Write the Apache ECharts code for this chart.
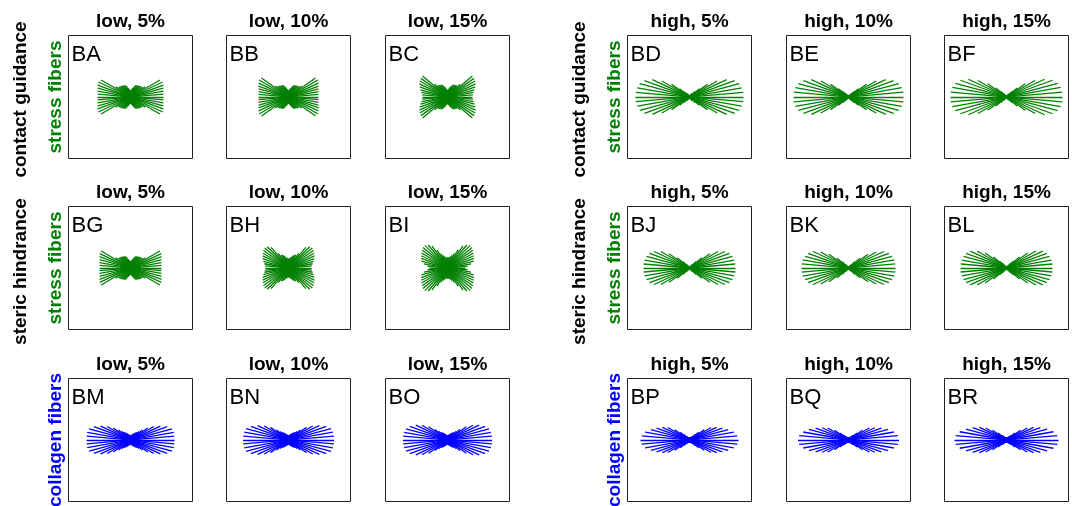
<!DOCTYPE html>
<html><head><meta charset="utf-8">
<script src="https://cdn.jsdelivr.net/npm/echarts@6/dist/echarts.min.js"></script>
<style>html,body{margin:0;padding:0;background:#fff}#c{width:1072px;height:506px}</style>
</head><body><div id="c"></div>
<script>
// fiber directions (degrees); each length applies to +angle and -angle
const angles = [0,5,10,15,20,25,30,35,40,45,50,55,60,65,70,75,80,85,90];
const colTitles = ['low, 5%','low, 10%','low, 15%','high, 5%','high, 10%','high, 15%'];
const panelIds = [
  ['BA','BB','BC','BD','BE','BF'],
  ['BG','BH','BI','BJ','BK','BL'],
  ['BM','BN','BO','BP','BQ','BR']
];
const rowMechanism = ['contact guidance','steric hindrance',''];
const rowFiber = ['stress fibers','stress fibers','collagen fibers'];
const rowColor = ['#008000','#008000','#0000ff'];

// half-lengths of the orientation lines per panel
const BA = [33,33,33.5,34,35,35.5,34,18,15.5,15,14.5,14,13.5,13,11.5,9.5,8,7,6.5];
const BB = [30,30,30.5,31,32,33,34,33,17,15,14.5,14,13.5,13,11.5,9.5,8,7,6.5];
const BC = [25,25.5,26.5,28,29.5,31,32,32.5,32.5,18,15,14.5,14,13.5,12,10.5,8.5,7.5,7];
const BD = [54,54,53,51.5,48,41,32,22,13,8,5,4,3,2,2,2,2,2,2];
const BE = [55,55,54,52,48,41,32,22,13,8,5,3,2,2,2,2,2,2,2];
const BF = [56,56,55,53,49,42,33,23,14,8,5,3,2,2,2,2,2,2,2];
const BG = [31,31,31.5,32,33,34,34,18,15.5,15,14.5,14,13.5,13,11.5,9.5,8,7,6.5];
const BH = [23,23.5,24.5,26,27.5,28.5,29.5,30.5,31,30,27,18,15,14.5,13,11.5,10.5,9.5,9.5];
const BI = [18,20,24,27,28,29,30,31,32,32,30,27,21,16,13.5,12,11,10.5,10.5];
const BJ = [46,46,45.5,44.5,42.5,39,33,25,16,9,5,3,2,2,2,2,2,2,2];
const BK = [47,47,46.5,45,43,39,32,24,15,9,5,3,2,2,2,2,2,2,2];
const BL = [46,46,45.5,44.5,43,40,34,26,17,10,6,3,2,2,2,2,2,2,2];
const BM = [44,44,44,43,39,33,27,21,15.5,12,10,9,8,7,6,5.5,5,4.5,4.5];
const BN = [45.5,45.5,45,44,40,34,28,22,15.5,12,10,9,8,7,6,5.5,5,4.5,4.5];
const BO = [44.5,44.5,44,43,40,35,29.5,23,16.5,12.5,10,9,8,7,6,5.5,5,4.5,4.5];
const BP = [49,48,45,40,35,30,25,18,12,8,5,4,3,3,3,3,3,3,3];
const BQ = [50.5,49.5,46,41,35,29,24,17,11,7,5,4,3,3,3,3,3,3,3];
const BR = [52,51,47.5,42,36,30,24,17,11,7,5,4,3,3,3,3,3,3,3];
const lengths = {BA,BB,BC,BD,BE,BF,BG,BH,BI,BJ,BK,BL,BM,BN,BO,BP,BQ,BR};

const colLeft = [68.5,226.5,385.5,627.5,786.5,944.5];
const rowTop = [35.5,206.5,378.5];
const W = 124, H = 123;
const FONT = "'Liberation Sans', Arial, Helvetica, sans-serif";

const chart = echarts.init(document.getElementById('c'), null, {renderer:'canvas'});
const grids = [], xAxes = [], yAxes = [], series = [], graphics = [];
let gi = 0;
for (let r = 0; r < 3; r++) {
  for (let c = 0; c < 6; c++) {
    const id = panelIds[r][c];
    const L = lengths[id];
    grids.push({left: colLeft[c], top: rowTop[r], width: W, height: H, show: true,
      borderColor: '#222', borderWidth: 1, backgroundColor: 'transparent', containLabel: false});
    xAxes.push({type: 'value', gridIndex: gi, min: -W/2, max: W/2, show: false});
    yAxes.push({type: 'value', gridIndex: gi, min: -H/2, max: H/2, show: false});
    const data = [];
    angles.forEach((a, k) => {
      const signs = (a === 0 || a === 90) ? [1] : [1, -1];
      signs.forEach(s => {
        const t = s * a * Math.PI / 180;
        const dx = L[k] * Math.cos(t), dy = L[k] * Math.sin(t);
        data.push({coords: [[-dx, -dy], [dx, dy]]});
      });
    });
    series.push({type: 'lines', coordinateSystem: 'cartesian2d', xAxisIndex: gi, yAxisIndex: gi,
      data: data, silent: true, animation: false,
      lineStyle: {color: rowColor[r], width: 1.3, opacity: 1, curveness: 0}});
    graphics.push({type: 'text', x: colLeft[c] + W/2, y: rowTop[r] - 14, silent: true,
      style: {text: colTitles[c], fill: '#000', font: 'bold 19px ' + FONT, align: 'center', verticalAlign: 'middle'}});
    graphics.push({type: 'text', x: colLeft[c] + 3, y: rowTop[r] + 19, silent: true,
      style: {text: id, fill: '#000', font: '22px ' + FONT, align: 'left', verticalAlign: 'middle'}});
    gi++;
  }
  [0, 3].forEach(c => {
    const cy = rowTop[r] + H/2;
    if (rowMechanism[r]) {
      graphics.push({type: 'text', x: colLeft[c] - 47.5, y: cy + (r === 0 ? 2.5 : 3.5), rotation: Math.PI/2, silent: true,
        style: {text: rowMechanism[r], fill: '#000', font: 'bold 19px ' + FONT, align: 'center', verticalAlign: 'middle'}});
    }
    graphics.push({type: 'text', x: colLeft[c] - 12.7, y: cy, rotation: Math.PI/2, silent: true,
      style: {text: rowFiber[r], fill: rowColor[r], font: 'bold 19px ' + FONT, align: 'center', verticalAlign: 'middle'}});
  });
}
chart.setOption({animation: false, grid: grids, xAxis: xAxes, yAxis: yAxes, series: series, graphic: graphics});
</script></body></html>
